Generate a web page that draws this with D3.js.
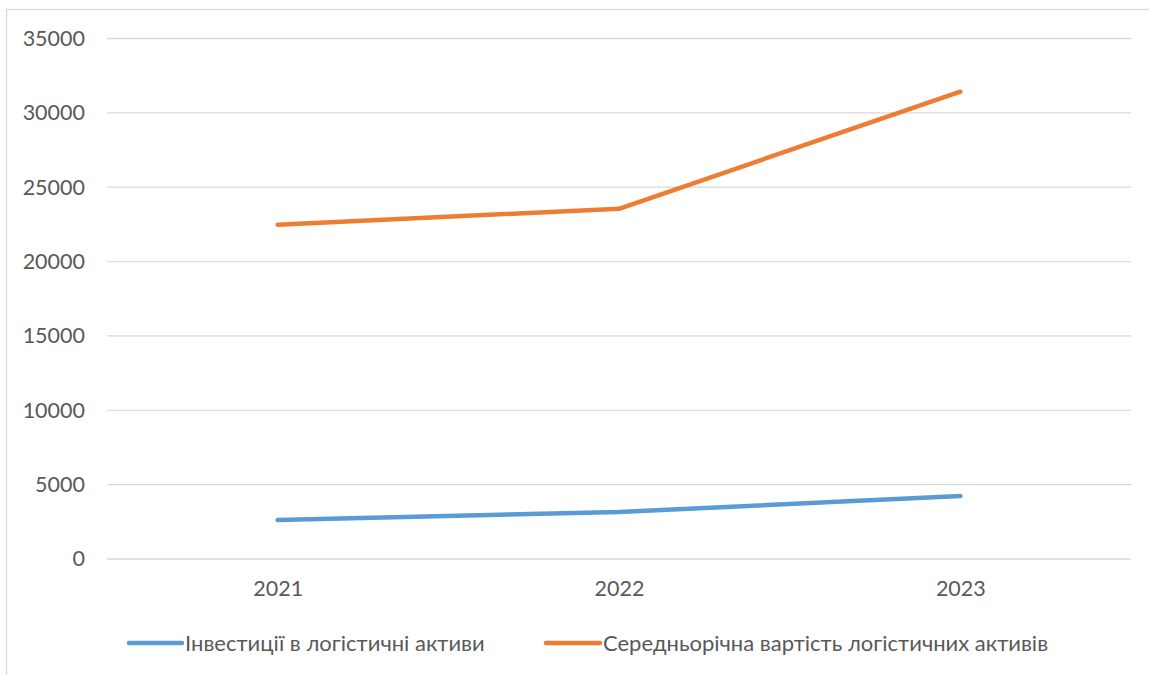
<!DOCTYPE html>
<html>
<head>
<meta charset="utf-8">
<script src="https://cdn.jsdelivr.net/npm/d3@7"></script>
<style>
  html, body { margin: 0; padding: 0; background: #fff; }
  svg { display: block; }
  text { font-family: Lato, "Open Sans", sans-serif; fill: #595959; }
</style>
</head>
<body>
<svg id="chart" width="1149" height="675"></svg>
<script>
// Years on the category axis
const years = ["2021", "2022", "2023"];
// Series values
const investments = [2620, 3160, 4230];
const avgAssetValue = [22480, 23550, 31420];
// Series names and colours
const seriesNames = ["Інвестиції в логістичні активи", "Середньорічна вартість логістичних активів"];
const seriesColors = ["#5B9BD5", "#ED7D31"];
// Value axis ticks
const yTicks = [0, 5000, 10000, 15000, 20000, 25000, 30000, 35000];

const svg = d3.select("#chart");
const W = 1149, H = 675;
const plot = { left: 107, right: 1131, top: 38.5, bottom: 559 };
const fontSize = "21.5px";
const legendFontSize = "22px";

// Chart frame
svg.append("rect")
  .attr("x", 6.5).attr("y", 9.5)
  .attr("width", W + 10).attr("height", H + 10)
  .attr("fill", "none").attr("stroke", "#d9d9d9").attr("stroke-width", 1.3);

const x = d3.scalePoint().domain(years).range([plot.left, plot.right]).padding(0.5);
const y = d3.scaleLinear().domain([0, 35000]).range([plot.bottom, plot.top]);

// Gridlines
svg.append("g").selectAll("line").data(yTicks).join("line")
  .attr("x1", plot.left).attr("x2", plot.right)
  .attr("y1", d => y(d)).attr("y2", d => y(d))
  .attr("stroke", "#d9d9d9").attr("stroke-width", 1.3);

// Value axis labels
const yAxis = d3.axisLeft(y).tickValues(yTicks).tickSize(0).tickPadding(0).tickFormat(d3.format("d"));
const gy = svg.append("g").attr("transform", `translate(85,0)`).call(yAxis);
gy.select(".domain").remove();
gy.selectAll("text").style("font-size", fontSize).attr("fill", "#595959");

// Category axis labels
const xAxis = d3.axisBottom(x).tickSize(0).tickPadding(0);
const gx = svg.append("g").attr("transform", `translate(0,${plot.bottom + 22})`).call(xAxis);
gx.select(".domain").remove();
gx.selectAll("text").style("font-size", fontSize).attr("fill", "#595959");

// Lines
const line = d3.line().x((d, i) => x(years[i])).y(d => y(d));
[investments, avgAssetValue].forEach((vals, k) => {
  svg.append("path").datum(vals)
    .attr("d", line)
    .attr("fill", "none")
    .attr("stroke", seriesColors[k])
    .attr("stroke-width", 4.5)
    .attr("stroke-linecap", "round")
    .attr("stroke-linejoin", "round");
});

// Legend
const legendY = 643;
const legendItems = [
  { x1: 129, x2: 182, tx: 185 },
  { x1: 546, x2: 600, tx: 603 }
];
legendItems.forEach((it, k) => {
  svg.append("line")
    .attr("x1", it.x1).attr("x2", it.x2)
    .attr("y1", legendY).attr("y2", legendY)
    .attr("stroke", seriesColors[k]).attr("stroke-width", 4.5)
    .attr("stroke-linecap", "round");
  svg.append("text")
    .attr("x", it.tx).attr("y", legendY)
    .attr("dy", "0.35em")
    .style("font-size", legendFontSize)
    .text(seriesNames[k]);
});
</script>
</body>
</html>
